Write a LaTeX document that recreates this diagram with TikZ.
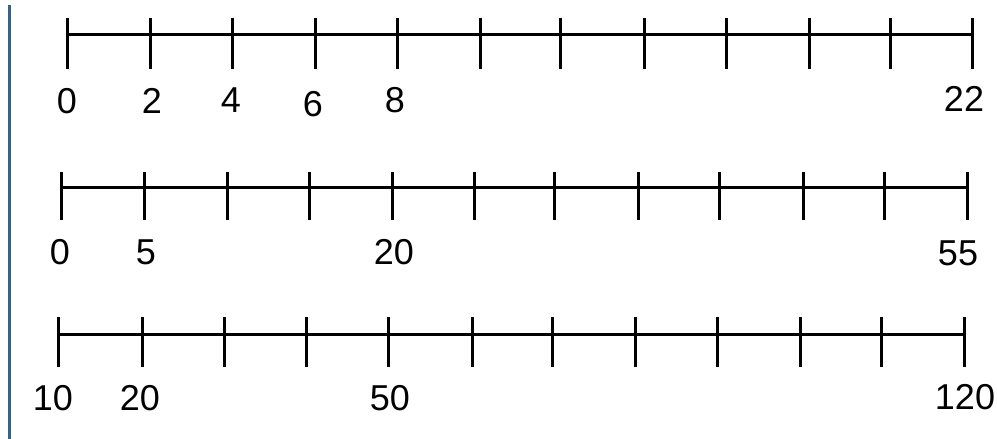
\documentclass[tikz,border=0pt]{standalone}
\usepackage{fontspec}
\setmainfont{Liberation Sans}
\definecolor{sidebar}{RGB}{52,98,138}
\begin{document}
\begin{tikzpicture}[x=1pt,y=-1pt,
  axis/.style={line width=3pt,black},
  tickmark/.style={line width=3pt,black},
  numlabel/.style={font=\fontsize{36}{36}\selectfont,inner sep=0pt,anchor=center}]
\useasboundingbox (0,0) rectangle (997,439);
\draw[sidebar,line width=3pt] (9.5,5) -- (9.5,439);
% line 1
\coordinate (a0) at (67.5,34.5);
\coordinate (a11) at (972.5,34.5);
\draw[axis] (a0) -- (a11);
\foreach \x in {67.5,150,232.5,315,397,480,560,644,726,809,890,972.5}
  \draw[tickmark] (\x,18) -- (\x,69);
\node[numlabel] (l1a) at (67,101) {0};
\node[numlabel] (l1b) at (152,101) {2};
\node[numlabel] (l1c) at (231,100) {4};
\node[numlabel] (l1d) at (313,104) {6};
\node[numlabel] (l1e) at (395,100) {8};
\node[numlabel] (l1f) at (964,99) {22};
% line 2
\coordinate (b0) at (61.5,187);
\coordinate (b11) at (967,187);
\draw[axis] (b0) -- (b11);
\foreach \x in {61.5,144,227,309,392,474,554,638,719,803,884,967}
  \draw[tickmark] (\x,172) -- (\x,220);
\node[numlabel] (l2a) at (60,252) {0};
\node[numlabel] (l2b) at (146,252) {5};
\node[numlabel] (l2c) at (394,252) {20};
\node[numlabel] (l2d) at (958,253) {55};
% line 3
\coordinate (c0) at (58.5,334);
\coordinate (c11) at (964,334);
\draw[axis] (c0) -- (c11);
\foreach \x in {58.5,142,224,306,388,472,552,635,717,800,881,964}
  \draw[tickmark] (\x,317) -- (\x,367);
\node[numlabel] (l3a) at (53,398) {10};
\node[numlabel] (l3b) at (140,398) {20};
\node[numlabel] (l3c) at (390,398) {50};
\node[numlabel] (l3d) at (965,397) {120};
\end{tikzpicture}
\end{document}
